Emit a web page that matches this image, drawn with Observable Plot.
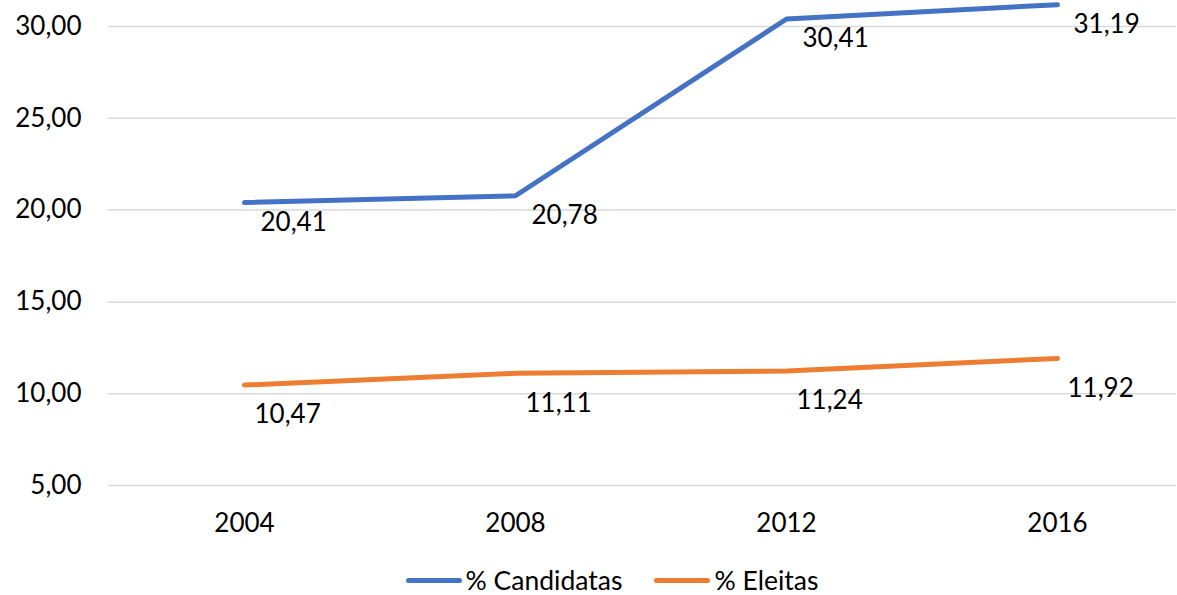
<!DOCTYPE html>
<html>
<head>
<meta charset="utf-8">
<script src="https://cdn.jsdelivr.net/npm/d3@7"></script>
<script src="https://cdn.jsdelivr.net/npm/@observablehq/plot@0.6"></script>
<style>
  html, body { margin: 0; padding: 0; background: #fff; overflow: hidden; }
  #chart svg { display: block; }
  .legend { height: 50px; display: flex; align-items: center; justify-content: center; padding-left: 47px;
            font-family: Lato, "Open Sans", sans-serif; font-size: 26.5px; color: #000; }
  .item { display: flex; align-items: center; }
  .sw { width: 56px; height: 5px; border-radius: 3px; margin-right: 4px; }
  .gap { width: 32px; }
</style>
</head>
<body>
<div id="chart"></div>
<div class="legend">
  <div class="item"><div class="sw" style="background:#4472C4"></div><span>% Candidatas</span></div>
  <div class="gap"></div>
  <div class="item"><div class="sw" style="background:#ED7D31"></div><span>% Eleitas</span></div>
</div>
<script>
const years = ["2004", "2008", "2012", "2016"];
const candidatas = [20.41, 20.78, 30.41, 31.19];
const eleitas = [10.47, 11.11, 11.24, 11.92];
const yTicks = [5, 10, 15, 20, 25, 30];

const fmt = v => v.toFixed(2).replace(".", ",");
const candData = years.map((y, i) => ({year: y, value: candidatas[i]}));
const eleData = years.map((y, i) => ({year: y, value: eleitas[i]}));

const chart = Plot.plot({
  width: 1177,
  height: 555,
  marginLeft: 108,
  marginRight: 1,
  marginTop: 26,
  marginBottom: 70,
  style: {fontFamily: "Lato, 'Open Sans', sans-serif", fontSize: "26px", color: "#000", background: "#fff", overflow: "visible"},
  x: {type: "point", domain: years, range: [243, 1057], padding: 0},
  y: {domain: [5, 30]},
  marks: [
    Plot.gridY(yTicks, {stroke: "#D9D9D9", strokeOpacity: 1, strokeWidth: 1.5}),
    Plot.axisY(yTicks, {tickSize: 0, tickPadding: 27, tickFormat: fmt, label: null, fontSize: 26, fill: "#000"}),
    Plot.axisX(years, {tickSize: 0, tickPadding: 28, label: null, fontSize: 26, fill: "#000"}),
    Plot.line(candData, {x: "year", y: "value", stroke: "#4472C4", strokeWidth: 5, strokeLinecap: "round", strokeLinejoin: "round"}),
    Plot.line(eleData, {x: "year", y: "value", stroke: "#ED7D31", strokeWidth: 5, strokeLinecap: "round", strokeLinejoin: "round"}),
    Plot.text(candData, {x: "year", y: "value", text: d => fmt(d.value), textAnchor: "start", dx: 16, dy: 20, fontSize: 26, fill: "#000"}),
    Plot.text(eleData, {x: "year", y: "value", text: d => fmt(d.value), textAnchor: "start", dx: 10, dy: 30, fontSize: 26, fill: "#000"})
  ]
});
document.getElementById("chart").appendChild(chart);
</script>
</body>
</html>
